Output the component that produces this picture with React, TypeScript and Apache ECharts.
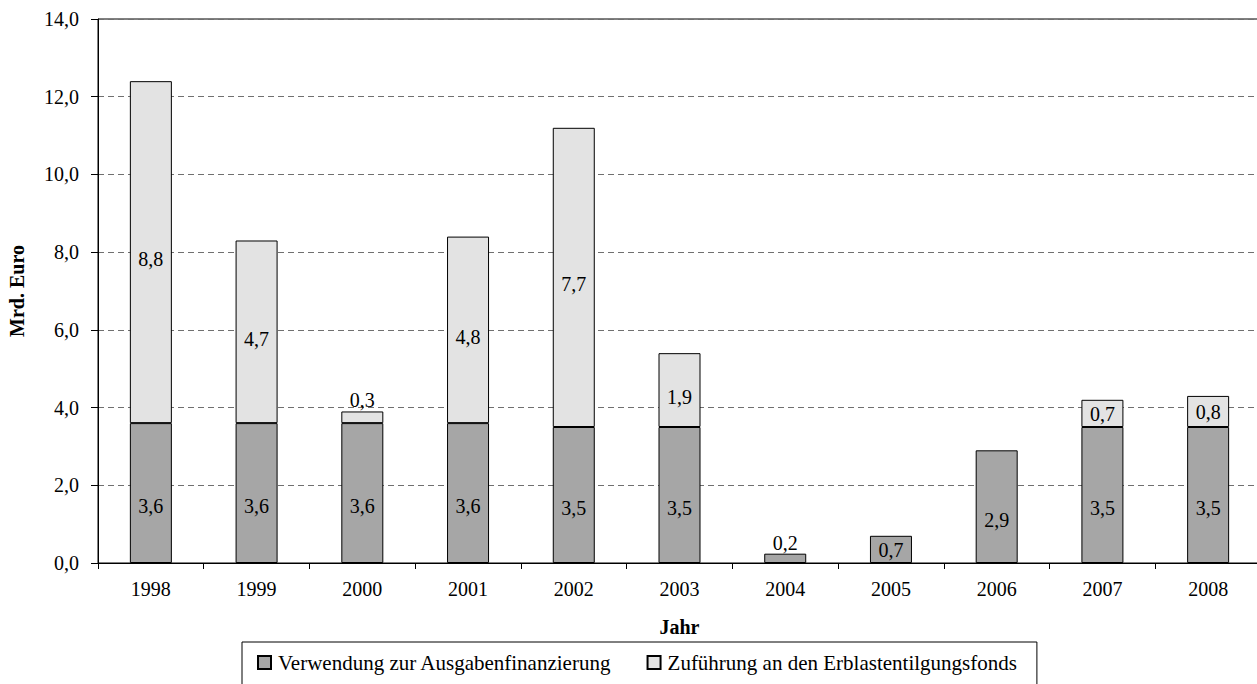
import React, { useEffect, useRef } from "react";
import * as echarts from "echarts";

const years = ["1998", "1999", "2000", "2001", "2002", "2003", "2004", "2005", "2006", "2007", "2008"];
const ausgaben = [3.6, 3.6, 3.6, 3.6, 3.5, 3.5, 0.24, 0.7, 2.9, 3.5, 3.5];
const erblast = [8.8, 4.7, 0.3, 4.8, 7.7, 1.9, null, null, null, 0.7, 0.8];
const seriesNames = ["Verwendung zur Ausgabenfinanzierung", "Zuführung an den Erblastentilgungsfonds"];
const yTicks = { min: 0, max: 14, interval: 2 };

const FONT = "Liberation Serif";
const fmt = (v: number) => v.toFixed(1).replace(".", ",");

function buildData(values: (number | null)[], bigOffset: number) {
  return values.map((v) => {
    if (v == null) return { value: null };
    if (v < 0.5) {
      return { value: v, label: { position: "top", distance: 1, offset: [0, 0] } };
    }
    return { value: v, label: { position: "inside", offset: [0, v < 1 ? 1 : bigOffset] } };
  });
}

export default function App() {
  const ref = useRef<HTMLDivElement>(null);
  useEffect(() => {
    if (!ref.current) return;
    const chart = echarts.init(ref.current, undefined, { renderer: "svg" });
    const labelBase = {
      show: true,
      color: "#000",
      fontFamily: FONT,
      fontSize: 20,
      formatter: (p: any) => (p.value == null ? "" : fmt(Number(p.value))),
    };
    chart.setOption({
      animation: false,
      backgroundColor: "#fff",
      textStyle: { fontFamily: FONT, color: "#000" },
      grid: {
        left: 98,
        top: 19,
        width: 1163,
        height: 544,
        show: true,
        borderColor: "#000",
        borderWidth: 1,
        containLabel: false,
        outerBoundsMode: "none",
      },
      legend: {
        left: 242,
        top: 642,
        orient: "horizontal",
        icon: "rect",
        itemWidth: 13,
        itemHeight: 13,
        itemGap: 35,
        padding: [10, 20, 12, 15],
        borderColor: "#000",
        borderWidth: 1,
        borderRadius: 0,
        textStyle: { fontFamily: FONT, fontSize: 21, color: "#000", padding: [0, 0, 0, 2] },
        data: seriesNames,
      },
      xAxis: {
        type: "category",
        data: years,
        name: "Jahr",
        nameLocation: "middle",
        nameGap: 54,
        nameTextStyle: { fontFamily: FONT, fontSize: 20, fontWeight: "bold", color: "#000" },
        axisLine: { show: true, lineStyle: { color: "#000", width: 1 } },
        axisTick: { show: true, length: 6, interval: 0, lineStyle: { color: "#000" } },
        axisLabel: { fontFamily: FONT, fontSize: 20, color: "#000", margin: 16, interval: 0 },
      },
      yAxis: {
        type: "value",
        min: yTicks.min,
        max: yTicks.max,
        interval: yTicks.interval,
        name: "Mrd. Euro",
        nameLocation: "middle",
        nameGap: 71,
        nameRotate: 90,
        nameTextStyle: { fontFamily: FONT, fontSize: 20, fontWeight: "bold", color: "#000" },
        axisLine: { show: true, lineStyle: { color: "#000", width: 1 } },
        axisTick: { show: true, length: 7, inside: false, lineStyle: { color: "#000" } },
        axisLabel: { fontFamily: FONT, fontSize: 20, color: "#000", margin: 19, formatter: (v: number) => fmt(v) },
        splitLine: { show: true, lineStyle: { color: "#707070", type: [6, 4], width: 1 } },
      },
      series: [
        {
          name: seriesNames[0],
          type: "bar",
          stack: "total",
          barWidth: 42,
          itemStyle: { color: "#a6a6a6", borderColor: "#000", borderWidth: 1 },
          label: labelBase,
          data: buildData(ausgaben, 13),
        },
        {
          name: seriesNames[1],
          type: "bar",
          stack: "total",
          barWidth: 42,
          itemStyle: { color: "#e3e3e3", borderColor: "#000", borderWidth: 1 },
          label: labelBase,
          data: buildData(erblast, 7),
        },
      ],
    });
    return () => chart.dispose();
  }, []);
  return (
    <div
      ref={ref}
      style={{ position: "absolute", left: 0, top: 0, width: 1257, height: 684 }}
    />
  );
}
